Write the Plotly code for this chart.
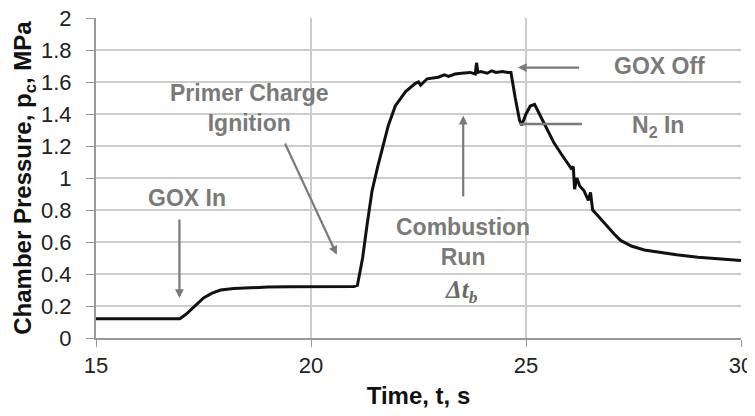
import plotly.graph_objects as go

time_s = [15.0, 16.0, 16.95, 17.1, 17.3, 17.5, 17.7, 17.9, 18.2, 18.6, 19.0, 19.5, 20.0, 20.5, 21.0,
          21.08, 21.2, 21.3, 21.42, 21.55, 21.65, 21.8, 21.96, 22.2, 22.42, 22.5, 22.55, 22.7, 22.96,
          23.1, 23.2, 23.35, 23.5, 23.7, 23.82, 23.85, 23.88, 23.95, 24.1, 24.2, 24.3, 24.45, 24.58,
          24.65, 24.75, 24.85, 24.9, 25.0, 25.1, 25.2, 25.35, 25.5, 25.65, 25.82, 25.95, 26.05, 26.1,
          26.13, 26.18, 26.25, 26.35, 26.45, 26.5, 26.55, 26.62, 26.75, 26.9, 27.05, 27.2, 27.45,
          27.75, 28.1, 28.5, 29.0, 29.5, 30.0]
pressure_mpa = [0.12, 0.12, 0.12, 0.15, 0.2, 0.25, 0.28, 0.3, 0.31, 0.315, 0.318, 0.32, 0.32, 0.322, 0.322,
                0.33, 0.5, 0.7, 0.92, 1.07, 1.175, 1.33, 1.45, 1.54, 1.59, 1.6, 1.58, 1.62, 1.63,
                1.645, 1.635, 1.65, 1.655, 1.66, 1.65, 1.72, 1.66, 1.665, 1.655, 1.67, 1.66, 1.665, 1.66,
                1.66, 1.5, 1.36, 1.33, 1.4, 1.45, 1.46, 1.38, 1.3, 1.22, 1.15, 1.1, 1.06, 1.07,
                0.93, 1.0, 0.95, 0.92, 0.86, 0.91, 0.8, 0.78, 0.74, 0.7, 0.65, 0.61, 0.575,
                0.55, 0.535, 0.52, 0.505, 0.495, 0.485]

x_ticks = [15, 20, 25, 30]
y_ticks = [0, 0.2, 0.4, 0.6, 0.8, 1, 1.2, 1.4, 1.6, 1.8, 2]
y_tick_labels = ["0", "0.2", "0.4", "0.6", "0.8", "1", "1.2", "1.4", "1.6", "1.8", "2"]

GRAY = "#7a7a7a"
FONT = "Liberation Sans"

fig = go.Figure()
fig.add_trace(go.Scatter(x=time_s, y=pressure_mpa, mode="lines",
                         line=dict(color="#111111", width=3), showlegend=False))

# arrows (tail -> head)
arrows = [
    (16.94, 0.75, 16.94, 0.25),
    (19.38, 1.225, 20.6, 0.52),
    (23.54, 0.875, 23.54, 1.39),
    (26.27, 1.69, 24.81, 1.69),
]
for ax_, ay_, x_, y_ in arrows:
    fig.add_annotation(x=x_, y=y_, ax=ax_, ay=ay_, xref="x", yref="y", axref="x", ayref="y",
                       showarrow=True, arrowhead=2, arrowsize=0.8, arrowwidth=2.2,
                       arrowcolor=GRAY, text="")
fig.add_shape(type="line", x0=24.85, y0=1.3375, x1=26.3, y1=1.3375, xref="x", yref="y",
              line=dict(color=GRAY, width=2.5))

labels = [
    (17.11, 0.875, "GOX In"),
    (18.56, 1.44, "Primer Charge<br>Ignition"),
    (23.54, 0.6, "Combustion<br>Run"),
    (28.1, 1.70, "GOX Off"),
    (28.06, 1.325, "N<sub>2</sub> In"),
]
for x_, y_, txt in labels:
    fig.add_annotation(x=x_, y=y_, xref="x", yref="y", text="<b>" + txt + "</b>", showarrow=False,
                       font=dict(family=FONT, size=23, color=GRAY), align="center")
fig.add_annotation(x=23.5, y=0.29, xref="x", yref="y", text="<b><i>Δt<sub>b</sub></i></b>", showarrow=False,
                   font=dict(family="Liberation Serif", size=25, color="#6a6a6a"))

fig.update_layout(
    width=755, height=408,
    margin=dict(l=88, r=22, t=10, b=78),
    paper_bgcolor="white", plot_bgcolor="white",
    font=dict(family=FONT, size=22, color="#222222"),
    xaxis=dict(range=[15, 30], tickvals=x_ticks, ticktext=[str(v) for v in x_ticks],
               showgrid=True, gridcolor="#cccccc", gridwidth=1.5, automargin=False,
               ticklabeloverflow="allow",
               showline=True, linecolor="#999999", linewidth=2, ticks="outside", ticklen=7,
               tickcolor="#999999", zeroline=False,
               title=dict(text="<b>Time, t, s</b>", font=dict(size=24, color="#111111"), standoff=10)),
    yaxis=dict(range=[0, 2], tickvals=y_ticks, ticktext=y_tick_labels,
               showgrid=True, gridcolor="#cccccc", gridwidth=1.5, automargin=False,
               ticklabeloverflow="allow", ticklabelstandoff=10,
               showline=True, linecolor="#999999", linewidth=2, ticks="outside", ticklen=8,
               tickcolor="#999999", zeroline=False,
               title=dict(text="<b>Chamber Pressure, p<sub>c</sub>, MPa</b>",
                          font=dict(size=24, color="#111111"), standoff=3)),
)

fig.write_html("out.html")
